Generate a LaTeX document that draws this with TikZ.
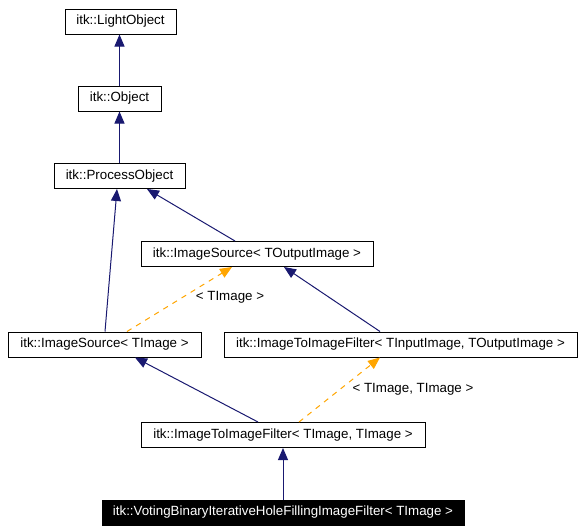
\documentclass[tikz,border=0pt]{standalone}
\usepackage{fontspec}
\setmainfont{Liberation Sans}
\usetikzlibrary{arrows.meta}
\definecolor{navy}{HTML}{191970}
\definecolor{dorange}{HTML}{FFA500}
\tikzset{
  cls/.style={draw=black, line width=0.75pt, rectangle, minimum height=25*0.75pt, inner sep=0pt, font=\fontsize{10pt}{12pt}\selectfont, fill=white},
  cur/.style={cls, fill=black, text=white},
  inh/.style={draw=navy, line width=0.75pt, -{Triangle[length=9pt,width=7.5pt]}},
  tmpl/.style={draw=dorange, line width=0.75pt, dash pattern=on 4pt off 4pt, -{Triangle[length=9pt,width=7.5pt,fill=dorange]}},
  lbl/.style={inner sep=0pt, font=\fontsize{10pt}{12pt}\selectfont}
}
\begin{document}
\begin{tikzpicture}[x=0.75pt,y=-0.75pt]
\useasboundingbox (0,0) rectangle (583,532);
\node[cls, minimum width=111*0.75pt] (light) at (120.5,21.5) {itk::LightObject};
\node[cls, minimum width=83*0.75pt] (obj) at (119.5,98.5) {itk::Object};
\node[cls, minimum width=131*0.75pt] (proc) at (119.5,176) {itk::ProcessObject};
\node[cls, minimum width=232*0.75pt] (isout) at (257,254) {itk::ImageSource< TOutputImage >};
\node[cls, minimum width=193*0.75pt] (isimg) at (104.5,344.5) {itk::ImageSource< TImage >};
\node[cls, minimum width=353*0.75pt] (iio) at (400.5,344.5) {itk::ImageToImageFilter< TInputImage, TOutputImage >};
\node[cls, minimum width=284*0.75pt] (iii) at (283,435) {itk::ImageToImageFilter< TImage, TImage >};
\node[cur, minimum width=362*0.75pt] (vot) at (283,512.5) {itk::VotingBinaryIterativeHoleFillingImageFilter< TImage >};
\node[lbl] (l1) at (230,297.5) {< TImage >};
\node[lbl] (l2) at (413,389) {< TImage, TImage >};

\draw[inh] (obj.north) -- (obj.north |- light.south);
\draw[inh] (proc.north) -- (proc.north |- obj.south);
\draw[inh] ([xshift=-22*0.75pt]isout.north) -- ([xshift=27.5*0.75pt]proc.south);
\draw[inh] ([xshift=0.5*0.75pt]isimg.north) -- ([xshift=-2.5*0.75pt]proc.south);
\draw[inh] ([xshift=-20.5*0.75pt]iio.north) -- ([xshift=27*0.75pt]isout.south);
\draw[tmpl] ([xshift=22.5*0.75pt]isimg.north) -- ([xshift=-25*0.75pt]isout.south);
\draw[inh] ([xshift=-25*0.75pt]iii.north) -- ([xshift=30.5*0.75pt]isimg.south);
\draw[tmpl] ([xshift=16*0.75pt]iii.north) -- ([xshift=-20.5*0.75pt]iio.south);
\draw[inh] (vot.north) -- (vot.north |- iii.south);
\end{tikzpicture}
\end{document}
